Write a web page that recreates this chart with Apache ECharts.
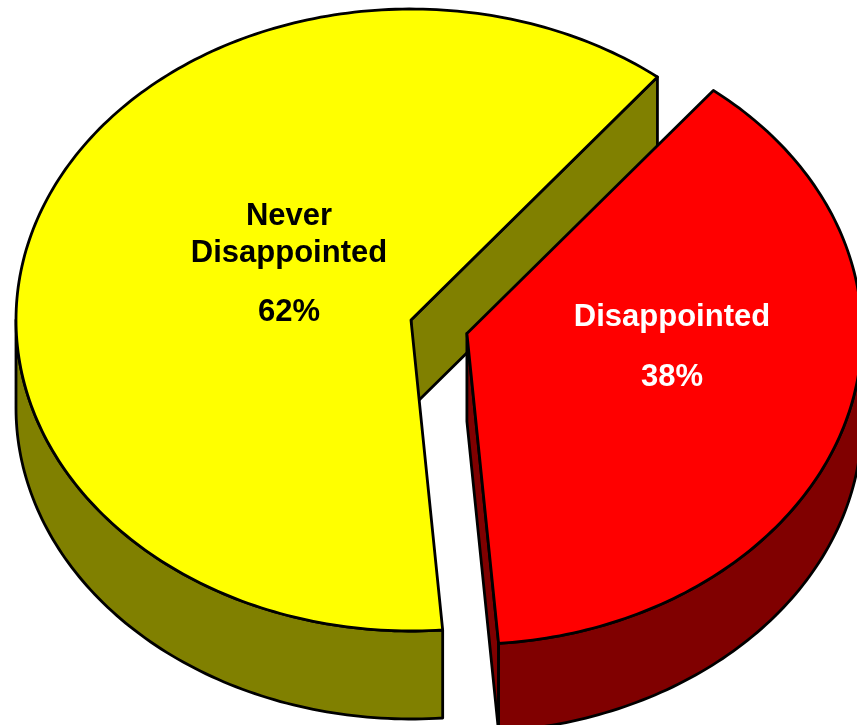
<!DOCTYPE html>
<html>
<head>
<meta charset="utf-8">
<script src="https://cdn.jsdelivr.net/npm/echarts@6/dist/echarts.min.js"></script>
<style>
    html, body { margin: 0; padding: 0; background: #fff; }
    #chart { width: 857px; height: 725px; }
</style>
</head>
<body>
<div id="chart"></div>
<script>
    // data
    var categories = ['Never Disappointed', 'Disappointed'];
    var nameLines = ['Never\nDisappointed', 'Disappointed'];
    var shares = [62, 38];
    var percentLabels = ['62%', '38%'];
    var explode = [0, 0.148];

    // look
    var topColors = ['#ffff00', '#ff0000'];
    var sideColors = ['#808000', '#800000'];
    var textColors = ['#000000', '#ffffff'];
    var labelAnchors = [[289, 235, 312], [672, 317, 377]];

    // 3d pie geometry (pixels)
    var cx = 411, cy = 320, rx = 395, ry = 311, depth = 88;
    var startDeg = 51.4;
    var font = '"Liberation Sans", Arial, sans-serif';

    var total = shares.reduce(function (a, b) { return a + b; }, 0);
    var starts = [];
    var acc = 0;
    shares.forEach(function (s) { starts.push(acc); acc += s; });

    function pt(deg, ox, oy, dz) {
        var a = deg * Math.PI / 180;
        return [cx + ox + rx * Math.cos(a), cy + oy - ry * Math.sin(a) + (dz || 0)];
    }

    function arc(a0, a1, ox, oy, dz) {
        var pts = [];
        var n = Math.max(2, Math.ceil(Math.abs(a1 - a0)));
        for (var k = 0; k <= n; k++) {
            pts.push(pt(a0 + (a1 - a0) * k / n, ox, oy, dz));
        }
        return pts;
    }

    var edge = {stroke: '#000', lineWidth: 2.8, lineJoin: 'round'};

    function face(points, fill) {
        return {
            type: 'polygon',
            shape: {points: points},
            style: Object.assign({fill: fill}, edge)
        };
    }

    function renderItem(params, api) {
        var i = params.dataIndex;
        var v = api.value(0);
        var a0 = startDeg + starts[i] / total * 360;
        var a1 = a0 + v / total * 360;
        var mid = (a0 + a1) / 2 * Math.PI / 180;
        var ox = explode[i] * rx * Math.cos(mid);
        var oy = -explode[i] * ry * Math.sin(mid);
        var c = [cx + ox, cy + oy];
        var children = [];

        // cut faces that turn towards the viewer
        [[a0, Math.cos(a0 * Math.PI / 180) > 0], [a1, Math.cos(a1 * Math.PI / 180) < 0]].forEach(function (e) {
            if (!e[1]) return;
            var p = pt(e[0], ox, oy);
            children.push(face([c, p, [p[0], p[1] + depth], [c[0], c[1] + depth]], sideColors[i]));
        });

        // outer wall, front half only
        for (var k = 0; k < 2; k++) {
            var lo = Math.max(a0, 180 + 360 * k);
            var hi = Math.min(a1, 360 + 360 * k);
            if (hi > lo) {
                var up = arc(lo, hi, ox, oy, 0);
                var down = arc(hi, lo, ox, oy, depth);
                children.push(face(up.concat(down), sideColors[i]));
            }
        }

        // top
        children.push(face([c].concat(arc(a0, a1, ox, oy, 0)), topColors[i]));

        var la = labelAnchors[i];
        children.push({
            type: 'text',
            style: {
                text: nameLines[i], x: la[0], y: la[1],
                fill: textColors[i], fontSize: 31, fontWeight: 'bold', fontFamily: font,
                lineHeight: 37, align: 'center', verticalAlign: 'middle'
            }
        });
        children.push({
            type: 'text',
            style: {
                text: percentLabels[i], x: la[0], y: la[2],
                fill: textColors[i], fontSize: 31, fontWeight: 'bold', fontFamily: font,
                align: 'center', verticalAlign: 'middle'
            }
        });

        return {type: 'group', children: children};
    }

    var chart = echarts.init(document.getElementById('chart'));
    chart.setOption({
        animation: false,
        backgroundColor: '#ffffff',
        series: [{
            type: 'custom',
            coordinateSystem: 'none',
            renderItem: renderItem,
            data: shares.map(function (s, i) { return {name: categories[i], value: [s]}; })
        }]
    });
</script>
</body>
</html>
